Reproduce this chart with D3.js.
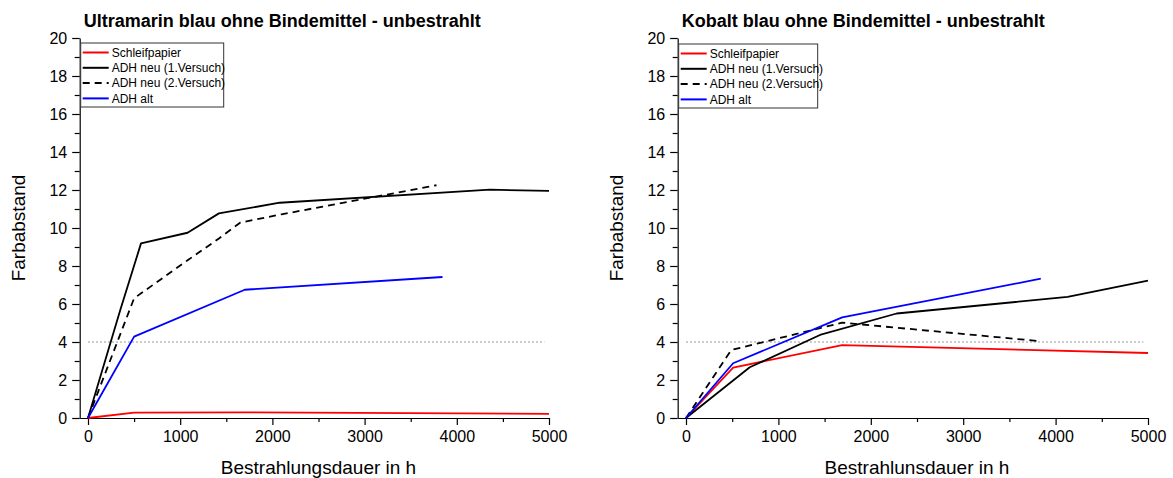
<!DOCTYPE html>
<html>
<head>
<meta charset="utf-8">
<script src="https://cdn.jsdelivr.net/npm/d3@7"></script>
<style>
	body { margin: 0; background: #fff; }
	svg { display: block; font-family: Arial, "Liberation Sans", sans-serif; }
</style>
</head>
<body>
<div id="root"></div>
<script>
// --- data ---
const seriesNames = ['Schleifpapier', 'ADH neu (1.Versuch)', 'ADH neu (2.Versuch)', 'ADH alt']
const titles = ['Ultramarin blau ohne Bindemittel - unbestrahlt', 'Kobalt blau ohne Bindemittel - unbestrahlt']
const xLabels = ['Bestrahlungsdauer in h', 'Bestrahlunsdauer in h']
const yLabel = 'Farbabstand'
const xTicks = [0, 1000, 2000, 3000, 4000, 5000]
const yTicks = [0, 2, 4, 6, 8, 10, 12, 14, 16, 18, 20]
const limitValue = 4

const ultraSchleifX = [0, 500, 1700, 5000]
const ultraSchleifY = [0, 0.28, 0.30, 0.22]
const ultraAdh1X = [0, 350, 575, 1080, 1420, 2080, 4360, 5000]
const ultraAdh1Y = [0, 5.68, 9.19, 9.75, 10.77, 11.33, 12.02, 11.95]
const ultraAdh2X = [0, 500, 1080, 1420, 1650, 2100, 3780]
const ultraAdh2Y = [0, 6.3, 8.3, 9.45, 10.28, 10.72, 12.25]
const ultraAltX = [0, 500, 1700, 3845]
const ultraAltY = [0, 4.28, 6.75, 7.42]

const kobaltSchleifX = [0, 510, 1690, 5000]
const kobaltSchleifY = [0, 2.65, 3.84, 3.42]
const kobaltAdh1X = [0, 690, 1450, 2280, 4130, 5000]
const kobaltAdh1Y = [0, 2.67, 4.37, 5.5, 6.37, 7.23]
const kobaltAdh2X = [0, 490, 1690, 3840]
const kobaltAdh2Y = [0, 3.58, 5.02, 4.04]
const kobaltAltX = [0, 510, 1690, 3840]
const kobaltAltY = [0, 2.88, 5.3, 7.33]

const C = {
	width: 1173,
	height: 478,
	top: 38,
	bottom: 418,
	xMin: -90,
	panels: [
		{ zero: 88, right: 549 },
		{ zero: 686, right: 1148 }
	],
	styles: [
		{ color: '#ff0000', dash: null },
		{ color: '#000000', dash: null },
		{ color: '#000000', dash: '7,5' },
		{ color: '#0000ff', dash: null }
	]
}

const panelData = [
	[[ultraSchleifX, ultraSchleifY], [ultraAdh1X, ultraAdh1Y], [ultraAdh2X, ultraAdh2Y], [ultraAltX, ultraAltY]],
	[[kobaltSchleifX, kobaltSchleifY], [kobaltAdh1X, kobaltAdh1Y], [kobaltAdh2X, kobaltAdh2Y], [kobaltAltX, kobaltAltY]]
]

const svg = d3.select('#root').append('svg')
	.attr('width', C.width)
	.attr('height', C.height)

panelData.forEach((series, i) => drawPanel(i, series))

function drawPanel(i, series) {
	const p = C.panels[i]
	const g = svg.append('g')

	const pxPer = (p.right - p.zero) / 5000
	const x = d3.scaleLinear().domain([C.xMin, 5000]).range([p.zero + C.xMin * pxPer, p.right])
	const y = d3.scaleLinear().domain([0, 20]).range([C.bottom, C.top])
	const left = x(C.xMin)

	// minor ticks
	g.append('g')
		.attr('transform', `translate(0,${C.bottom})`)
		.call(d3.axisBottom(x).tickValues(d3.range(500, 5000, 1000)).tickSize(4).tickFormat(''))
		.call(a => a.select('.domain').remove())
	g.append('g')
		.attr('transform', `translate(${left},0)`)
		.call(d3.axisLeft(y).tickValues(d3.range(1, 20, 2)).tickSize(5).tickFormat(''))
		.call(a => a.select('.domain').remove())

	// major axes
	const ax = g.append('g')
		.attr('transform', `translate(0,${C.bottom})`)
		.call(d3.axisBottom(x).tickValues(xTicks).tickSize(7).tickSizeOuter(0).tickPadding(6).tickFormat(d3.format('d')))
	ax.selectAll('text').attr('font-size', 16).attr('font-family', 'Arial, "Liberation Sans", sans-serif').attr('fill', '#000')

	const ay = g.append('g')
		.attr('transform', `translate(${left},0)`)
		.call(d3.axisLeft(y).tickValues(yTicks).tickSize(7.5).tickSizeOuter(0).tickPadding(5).tickFormat(d3.format('d')))
	ay.selectAll('text').attr('font-size', 16).attr('font-family', 'Arial, "Liberation Sans", sans-serif').attr('fill', '#000')

	g.selectAll('.domain, .tick line').attr('stroke', '#000').attr('stroke-width', 1.2)

	// 4 threshold
	g.append('line')
		.attr('x1', x(0)).attr('x2', x(4950))
		.attr('y1', y(limitValue)).attr('y2', y(limitValue))
		.attr('stroke', '#999').attr('stroke-width', 1).attr('stroke-dasharray', '2,2')

	// lines
	const line = d3.line().x(d => x(d[0])).y(d => y(d[1]))
	series.forEach((s, k) => {
		const pts = s[0].map((v, j) => [v, s[1][j]])
		g.append('path')
			.attr('d', line(pts))
			.attr('fill', 'none')
			.attr('stroke', C.styles[k].color)
			.attr('stroke-width', 1.8)
			.attr('stroke-dasharray', C.styles[k].dash)
			.attr('stroke-linejoin', 'round')
	})

	// title
	g.append('text')
		.attr('x', left + 4)
		.attr('y', 27)
		.attr('font-size', 18)
		.attr('font-weight', 'bold')
		.text(titles[i])

	// axis labels
	g.append('text')
		.attr('x', (p.zero + p.right) / 2)
		.attr('y', 474)
		.attr('text-anchor', 'middle')
		.attr('font-size', 19)
		.text(xLabels[i])

	g.append('text')
		.attr('transform', `translate(${left - 55},${(C.top + C.bottom) / 2}) rotate(-90)`)
		.attr('text-anchor', 'middle')
		.attr('font-size', 19)
		.text(yLabel)

	// legend
	const lg = g.append('g').attr('transform', `translate(${left + 1},${43 + i})`)
	lg.append('rect')
		.attr('width', i === 0 ? 143 : 139).attr('height', 64)
		.attr('fill', '#fff').attr('stroke', '#333').attr('stroke-width', 1)
	seriesNames.forEach((name, k) => {
		const ry = 9.5 + k * 15.3
		lg.append('line')
			.attr('x1', 2).attr('x2', 28).attr('y1', ry).attr('y2', ry)
			.attr('stroke', C.styles[k].color)
			.attr('stroke-width', 2)
			.attr('stroke-dasharray', C.styles[k].dash)
		lg.append('text')
			.attr('x', 31).attr('y', ry + 4.3)
			.attr('font-size', 12)
			.text(name)
	})
}
</script>
</body>
</html>
